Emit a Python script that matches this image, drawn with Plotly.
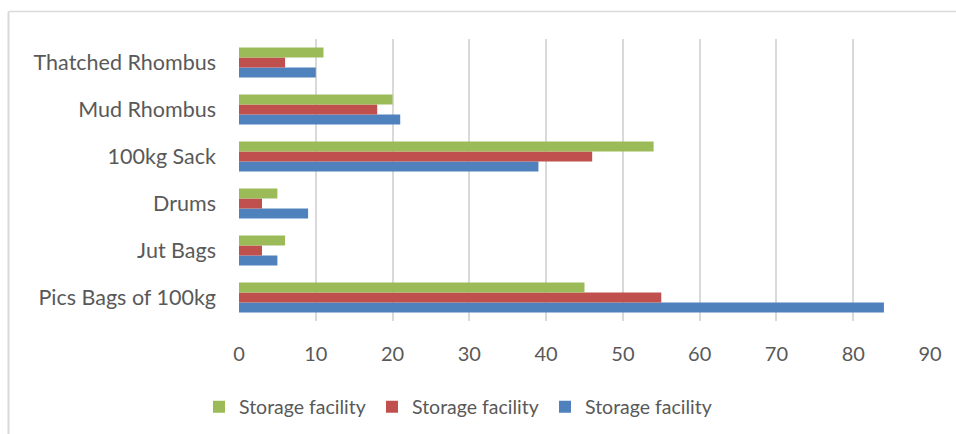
import plotly.graph_objects as go

# Storage type categories (bottom to top)
categories = ["Pics Bags of 100kg", "Jut Bags", "Drums", "100kg Sack",
              "Mud Rhombus", "Thatched Rhombus"]

# Three series, all labelled "Storage facility"
series_names = ["Storage facility", "Storage facility", "Storage facility"]
blue_values = [84, 5, 9, 39, 21, 10]
red_values = [55, 3, 3, 46, 18, 6]
green_values = [45, 6, 5, 54, 20, 11]

x_ticks = [0, 10, 20, 30, 40, 50, 60, 70, 80, 90]

colors = ["#4F81BD", "#C0504D", "#9BBB59"]
font_family = "Lato, 'Open Sans', sans-serif"
text_color = "#595959"

fig = go.Figure()
for name, vals, col in zip(series_names, [blue_values, red_values, green_values], colors):
    fig.add_trace(go.Bar(
        y=categories, x=vals, name=name, orientation="h",
        marker=dict(color=col, line=dict(width=0)),
    ))

# Plot area geometry in pixels
W, H = 956, 434
L, R, T, B = 239, 26, 39, 113
pw, ph = W - L - R, H - T - B

def px_x(p):
    return (p - L) / pw

def px_y(p):
    return (H - B - p) / ph

fig.update_layout(
    width=W, height=H,
    margin=dict(l=L, r=R, t=T, b=B, pad=0, autoexpand=False),
    paper_bgcolor="white", plot_bgcolor="white",
    barmode="group", bargap=0.36, bargroupgap=0,
    font=dict(family=font_family, size=18, color=text_color),
    xaxis=dict(
        range=[0, 90], tickvals=x_ticks, showgrid=True,
        gridcolor="#D9D9D9", gridwidth=2, zeroline=False,
        showline=False, ticks="", ticklabelstandoff=19,
        tickfont=dict(size=20, color=text_color),
    ),
    yaxis=dict(
        categoryorder="array", categoryarray=categories,
        showgrid=False, zeroline=False, showline=False, ticks="",
        ticklabelstandoff=22, tickfont=dict(size=21.5, color=text_color),
    ),
    legend=dict(
        orientation="h", traceorder="reversed",
        x=px_x(199), y=px_y(407), xanchor="left", yanchor="middle",
        font=dict(size=19.5, color=text_color), itemwidth=30,
        entrywidth=128, entrywidthmode="pixels",
        bgcolor="rgba(0,0,0,0)",
    ),
    shapes=[
        # chart frame: top and left edges
        dict(type="line", xref="paper", yref="paper",
             x0=px_x(8.5), x1=px_x(960), y0=px_y(11.5), y1=px_y(11.5),
             line=dict(color="#D9D9D9", width=1.5)),
        dict(type="line", xref="paper", yref="paper",
             x0=px_x(8.5), x1=px_x(8.5), y0=px_y(11.5), y1=px_y(440),
             line=dict(color="#D9D9D9", width=2)),
    ],
)

fig.write_html("out.html")
